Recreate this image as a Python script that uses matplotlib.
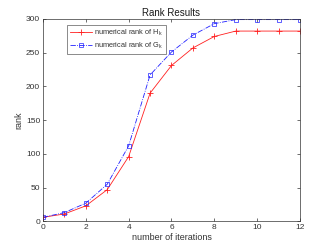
import matplotlib
matplotlib.use("Agg")
import matplotlib.pyplot as plt

iterations = [0, 1, 2, 3, 4, 5, 6, 7, 8, 9, 10, 11, 12]
rank_H = [6, 11, 23, 47, 96, 190, 231, 257, 274, 282, 282, 282, 282]
rank_G = [6, 13, 27, 55, 112, 217, 251, 276, 293, 299, 299, 299, 299]
xticks = [0, 2, 4, 6, 8, 10, 12]
yticks = [0, 50, 100, 150, 200, 250, 300]

plt.rcParams['font.family'] = ['Liberation Sans', 'DejaVu Sans']
plt.rcParams['mathtext.fontset'] = 'custom'
plt.rcParams['mathtext.rm'] = 'Liberation Sans'
plt.rcParams['mathtext.it'] = 'Liberation Sans'

fig = plt.figure(figsize=(3.32, 2.49), dpi=100)
ax = fig.add_axes([0.1295, 0.111, 0.7741, 0.813])

ax.plot(iterations, rank_H, color='#ff2020', lw=0.6, marker='+', ms=4, mew=0.6,
        label='numerical rank of H$_{\\rm k}$')
ax.plot(iterations, rank_G, color='#2020ff', lw=0.6, ls='-.', marker='s', ms=3.2,
        mew=0.5, mfc='none', label='numerical rank of G$_{\\rm k}$')

ax.set_xlim(0, 12)
ax.set_ylim(0, 300)
ax.set_xticks(xticks)
ax.set_yticks(yticks)
ax.tick_params(direction='in', top=True, right=True, labelsize=6, length=2.5,
               width=0.5, colors='#333333', pad=2)
for s in ax.spines.values():
    s.set_linewidth(0.5)
    s.set_color('#333333')
ax.set_xlabel('number of iterations', fontsize=6.5, labelpad=1, color='#333333')
ax.set_ylabel('rank', fontsize=6.5, labelpad=2, color='#333333')
ax.set_title('Rank Results', fontsize=7, pad=2, color='#1a1a1a')

leg = ax.legend(loc='upper left', bbox_to_anchor=(0.092, 0.97), fontsize=5.3,
                frameon=True, fancybox=False, edgecolor='#333333',
                handlelength=3.0, borderpad=0.4, labelspacing=0.35,
                handletextpad=0.3, borderaxespad=0)
leg.get_frame().set_linewidth(0.5)
for t in leg.get_texts():
    t.set_color('#333333')

fig.savefig('out.png', dpi=100)
